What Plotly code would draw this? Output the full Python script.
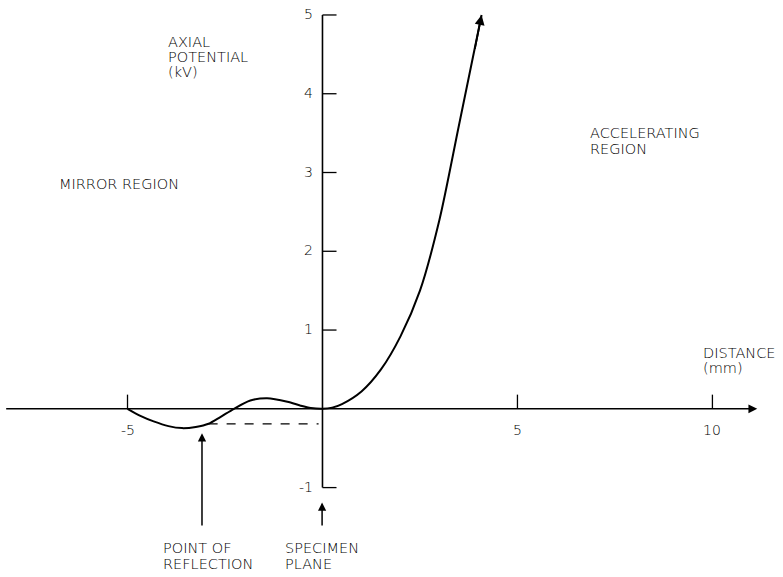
import plotly.graph_objects as go

# Axial potential along the column (distance in mm, potential in kV)
mirror_x = [-5.0, -4.67, -4.33, -3.95, -3.6, -3.25, -2.92, -2.62, -2.27,
            -1.85, -1.42, -0.9, -0.56, -0.3, 0.0]
mirror_v = [0.0, -0.09, -0.16, -0.22, -0.245, -0.23, -0.19, -0.105, 0.0,
            0.105, 0.135, 0.09, 0.04, 0.01, 0.0]
accel_x = [0.25, 0.5, 1.0, 1.5, 2.0, 2.5, 3.0, 3.5, 4.08]
accel_v = [0.015, 0.06, 0.22, 0.50, 0.92, 1.50, 2.40, 3.60, 5.0]

x_ticks = [-5, 5, 10]
y_ticks = [-1, 1, 2, 3, 4, 5]
reflection_x = -2.92
reflection_v = -0.19

X_RANGE = [-8.27, 11.81]
Y_RANGE = [-2.135, 5.19]

FONT = "DejaVu Sans"
INK = "#000000"

curve_x = mirror_x + accel_x
curve_v = mirror_v + accel_v

fig = go.Figure()
fig.add_trace(go.Scatter(
    x=curve_x, y=curve_v, mode="lines",
    line=dict(color=INK, width=2, shape="spline", smoothing=0.8),
    hoverinfo="skip", showlegend=False,
))

shapes = []
# vertical potential axis from -1 to 5 kV with ticks pointing right
shapes.append(dict(type="line", xref="x", yref="y", x0=0, x1=0,
                   y0=min(y_ticks), y1=max(y_ticks),
                   line=dict(color=INK, width=1.6)))
for t in y_ticks:
    shapes.append(dict(type="line", xref="x", yref="y", x0=0, x1=0.36,
                       y0=t, y1=t, line=dict(color=INK, width=1.3)))
# distance axis ticks pointing up
for t in x_ticks:
    shapes.append(dict(type="line", xref="x", yref="y", x0=t, x1=t,
                       y0=0, y1=0.18, line=dict(color=INK, width=1.3)))
# dashed level of the reflection point
shapes.append(dict(type="line", xref="x", yref="y", x0=reflection_x, x1=-0.1,
                   y0=reflection_v, y1=reflection_v,
                   line=dict(color=INK, width=1.3, dash="dash")))

ann = []
# distance axis with arrow
ann.append(dict(x=11.15, y=0, ax=-8.15, ay=0, xref="x", yref="y",
                axref="x", ayref="y", showarrow=True, arrowhead=2,
                arrowsize=1.1, arrowwidth=1.6, arrowcolor=INK, text=""))
# arrow at the end of the potential curve
ann.append(dict(x=accel_x[-1], y=accel_v[-1], ax=3.9, ay=4.55,
                xref="x", yref="y", axref="x", ayref="y", showarrow=True,
                arrowhead=2, arrowsize=1.1, arrowwidth=1.8, arrowcolor=INK,
                text=""))
# pointer arrows from the bottom labels
ann.append(dict(x=-3.09, y=-0.31, ax=-3.09, ay=-1.5, xref="x", yref="y",
                axref="x", ayref="y", showarrow=True, arrowhead=2,
                arrowsize=1.1, arrowwidth=1.5, arrowcolor=INK, text=""))
ann.append(dict(x=-0.01, y=-1.19, ax=-0.01, ay=-1.5, xref="x", yref="y",
                axref="x", ayref="y", showarrow=True, arrowhead=2,
                arrowsize=1.1, arrowwidth=1.5, arrowcolor=INK, text=""))

num_font = dict(family=FONT, size=14, color=INK, weight=200)
for t in x_ticks:
    ann.append(dict(x=t, y=-0.27, xref="x", yref="y", text=str(t),
                    showarrow=False, font=num_font,
                    xanchor="center", yanchor="middle"))
for t in y_ticks:
    ann.append(dict(x=-0.2, y=t + 0.01, xref="x", yref="y", text=str(t),
                    showarrow=False, font=num_font,
                    xanchor="right", yanchor="middle"))


def px_to_x(px):
    return (px - 322.5) / 39.0


def px_to_y(py):
    return (409.0 - py) / 78.8


labels = [
    ("AXIAL", 166, 42), ("POTENTIAL", 166, 57), ("(kV)", 166, 72),
    ("MIRROR REGION", 57, 184),
    ("ACCELERATING", 588, 133), ("REGION", 588, 149),
    ("DISTANCE", 701, 353), ("(mm)", 701, 368),
    ("POINT OF", 161, 548), ("REFLECTION", 161, 564),
    ("SPECIMEN", 283, 548), ("PLANE", 283, 564),
]
for text, px, py in labels:
    ann.append(dict(x=px_to_x(px), y=px_to_y(py), xref="x", yref="y",
                    text=text, showarrow=False,
                    font=dict(family=FONT, size=14.5, color=INK, weight=200),
                    xanchor="left", yanchor="middle"))

fig.update_layout(
    width=783, height=577,
    margin=dict(l=0, r=0, t=0, b=0),
    paper_bgcolor="white", plot_bgcolor="white",
    xaxis=dict(range=X_RANGE, visible=False, fixedrange=True),
    yaxis=dict(range=Y_RANGE, visible=False, fixedrange=True),
    shapes=shapes, annotations=ann,
    showlegend=False,
)

fig.write_html("out.html")
